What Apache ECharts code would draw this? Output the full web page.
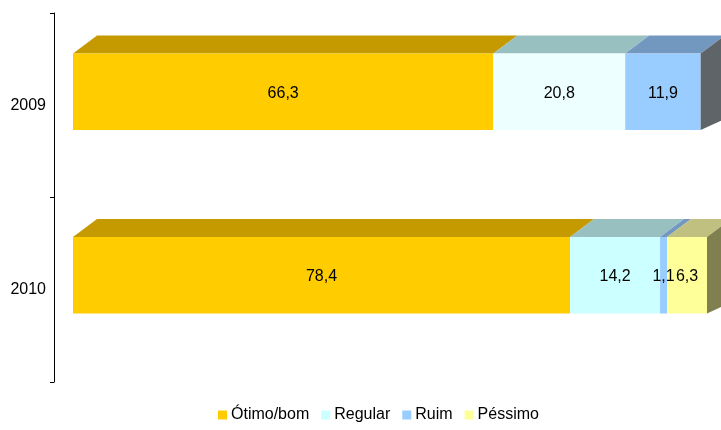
<!DOCTYPE html>
<html>
<head>
<meta charset="utf-8">
<script src="https://cdn.jsdelivr.net/npm/echarts@6/dist/echarts.min.js"></script>
<style>
html,body{margin:0;padding:0;background:#fff;}
#chart{width:721px;height:430px;}
</style>
</head>
<body>
<div id="chart"></div>
<script>
// ---- data ----
const categories = ['2009', '2010'];
const seriesNames = ['Ótimo/bom', 'Regular', 'Ruim', 'Péssimo'];
const otimoBom = [66.3, 78.4];
const regular = [20.8, 14.2];
const ruim = [11.9, 1.1];
const pessimo = [null, 6.3];

// ---- styles ----
const frontColors = ['#ffcc00', '#ccffff', '#99ccff', '#ffff99'];
const frontOverride = { '1-0': '#eeffff' }; // series-category
const topColors = ['#c49a00', '#99c0c0', '#7298c0', '#c0c080'];
const sideColors = ['#8a6c00', '#6a8a8a', '#5f6468', '#7f7f4f'];
const DX = 24, DY = 18, DYB = 11;
const FONT = '"Liberation Sans", Arial, sans-serif';

const allValues = [otimoBom, regular, ruim, pessimo];

// last non-null series per category
const lastIdx = categories.map((c, ci) => {
  let li = -1;
  allValues.forEach((arr, si) => { if (arr[ci] != null && arr[ci] > 0) li = si; });
  return li;
});

function makeData(si) {
  return categories.map((c, ci) => {
    let start = 0;
    for (let k = 0; k < si; k++) start += (allValues[k][ci] || 0);
    const v = allValues[si][ci];
    return [start, v == null ? NaN : v, ci];
  });
}

function fmt(v) { return String(v.toFixed(1)).replace('.', ','); }

function renderFactory(si) {
  return function (params, api) {
    const start = api.value(0), val = api.value(1), ci = api.value(2);
    if (isNaN(val)) return null;
    const p0 = api.coord([start, ci]);
    const p1 = api.coord([start + val, ci]);
    const band = api.size([0, 1])[1];
    const h = band * 0.417;
    const x0 = p0[0], x1 = p1[0];
    const y0 = p0[1] - h / 2, y1 = y0 + h;
    const fc = frontOverride[si + '-' + ci] || frontColors[si];
    const children = [
      { type: 'polygon', shape: { points: [[x0, y0], [x0 + DX, y0 - DY], [x1 + DX, y0 - DY], [x1, y0]] },
        style: { fill: topColors[si] } },
      { type: 'rect', shape: { x: x0, y: y0, width: x1 - x0, height: h }, style: { fill: fc } }
    ];
    if (lastIdx[ci] === si) {
      children.push({ type: 'polygon', shape: { points: [[x1, y0], [x1 + DX, y0 - DY], [x1 + DX, y1 - DYB], [x1, y1]] },
        style: { fill: sideColors[si] } });
    }
    children.push({ type: 'text', z2: 100, style: { x: (x0 + x1) / 2, y: (y0 + y1) / 2 + 1.5, text: fmt(val),
      fill: '#000', font: '16px ' + FONT, align: 'center', verticalAlign: 'middle' } });
    return { type: 'group', children: children };
  };
}

const series = seriesNames.map((name, si) => ({
  name: name,
  type: 'custom',
  xAxisIndex: 1,
  yAxisIndex: 1,
  z: 2,
  itemStyle: { color: frontColors[si] },
  encode: { x: [0, 1], y: 2 },
  data: makeData(si),
  renderItem: renderFactory(si)
}));

const chart = echarts.init(document.getElementById('chart'), null, { renderer: 'canvas' });
chart.setOption({
  animation: false,
  backgroundColor: '#fff',
  textStyle: { fontFamily: FONT },
  grid: [
    { left: 54, top: 13, width: 10, height: 369 },
    { left: 73, top: 0, width: 634, height: 367 }
  ],
  xAxis: [
    { gridIndex: 0, type: 'value', show: false },
    { gridIndex: 1, type: 'value', min: 0, max: 100, show: false }
  ],
  yAxis: [
    { gridIndex: 0, type: 'category', data: categories, inverse: true,
      axisLine: { show: true, lineStyle: { color: '#000', width: 1 } },
      axisTick: { show: true, length: 4, lineStyle: { color: '#000' } },
      axisLabel: { color: '#000', fontSize: 16, fontFamily: FONT, margin: 8, padding: [6, 0, 0, 0] },
      splitLine: { show: false } },
    { gridIndex: 1, type: 'category', data: categories, inverse: true, show: false }
  ],
  legend: {
    data: seriesNames,
    top: 407,
    left: 218,
    padding: 0,
    icon: 'rect',
    itemWidth: 9,
    itemHeight: 9,
    itemGap: 12,
    textStyle: { color: '#000', fontSize: 16, fontFamily: FONT, padding: [0, 0, 0, -1] }
  },
  series: series
});
</script>
</body>
</html>
